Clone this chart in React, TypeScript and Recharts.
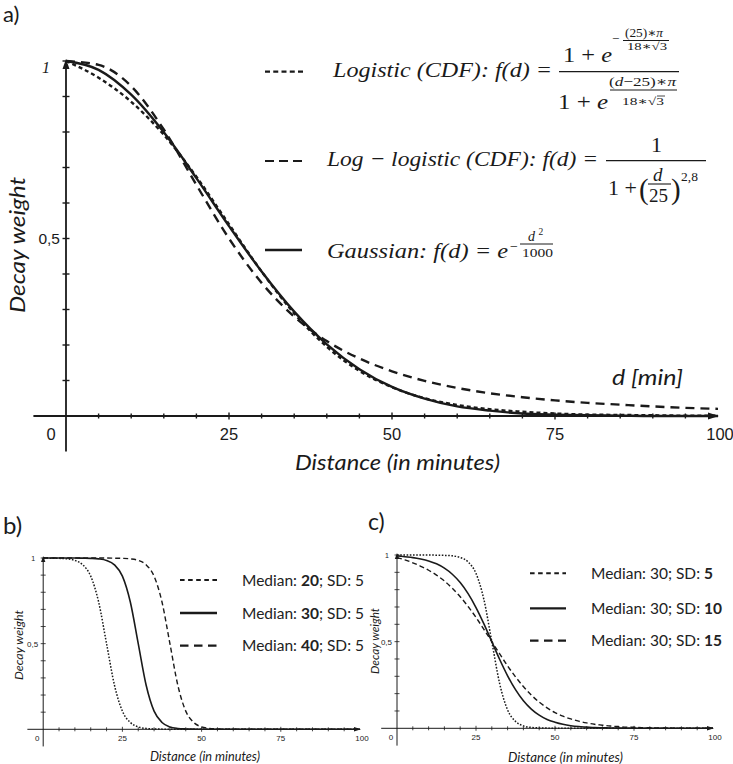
import React from "react";
import { LineChart, Line, XAxis, YAxis, ReferenceLine } from "recharts";

// ---- panel a: three decay functions, read every 5 minutes ----
const distA = [0, 5, 10, 15, 20, 25, 30, 35, 40, 45, 50, 55, 60, 65, 70, 75, 80, 85, 90, 95, 100];
const gaussianA = [1, 0.975, 0.905, 0.799, 0.67, 0.535, 0.407, 0.294, 0.202, 0.132, 0.082, 0.049, 0.027, 0.015, 0.007, 0.004, 0.002, 0.001, 0, 0, 0];
const logisticA = [1, 0.953, 0.885, 0.792, 0.674, 0.54, 0.407, 0.289, 0.195, 0.127, 0.081, 0.05, 0.031, 0.019, 0.012, 0.007, 0.004, 0.003, 0.002, 0.001, 0.001];
const logLogisticA = [1, 0.989, 0.929, 0.807, 0.651, 0.5, 0.375, 0.28, 0.211, 0.162, 0.126, 0.099, 0.079, 0.064, 0.053, 0.044, 0.037, 0.032, 0.027, 0.023, 0.02];

// ---- panels b and c, read every 2.5 minutes ----
const distBC = [0, 2.5, 5, 7.5, 10, 12.5, 15, 17.5, 20, 22.5, 25, 27.5, 30, 32.5, 35, 37.5, 40, 42.5, 45, 47.5, 50, 52.5, 55, 57.5, 60, 62.5, 65, 67.5, 70, 72.5, 75, 77.5, 80, 82.5, 85, 87.5, 90, 92.5, 95, 97.5, 100];
const median20 = [1, 0.999, 0.998, 0.995, 0.986, 0.96, 0.894, 0.743, 0.5, 0.257, 0.106, 0.04, 0.014, 0.005, 0.002, 0.001, 0, 0, 0, 0, 0, 0, 0, 0, 0, 0, 0, 0, 0, 0, 0, 0, 0, 0, 0, 0, 0, 0, 0, 0, 0];
const median30 = [1, 1, 1, 1, 1, 0.999, 0.998, 0.995, 0.986, 0.96, 0.894, 0.743, 0.5, 0.257, 0.106, 0.04, 0.014, 0.005, 0.002, 0.001, 0, 0, 0, 0, 0, 0, 0, 0, 0, 0, 0, 0, 0, 0, 0, 0, 0, 0, 0, 0, 0];
const median40 = [1, 1, 1, 1, 1, 1, 1, 1, 1, 0.999, 0.998, 0.995, 0.986, 0.96, 0.894, 0.743, 0.5, 0.257, 0.106, 0.04, 0.014, 0.005, 0.002, 0.001, 0, 0, 0, 0, 0, 0, 0, 0, 0, 0, 0, 0, 0, 0, 0, 0, 0];
const sd5 = [1, 1, 1, 1, 1, 0.999, 0.998, 0.995, 0.986, 0.96, 0.894, 0.743, 0.5, 0.257, 0.106, 0.04, 0.014, 0.005, 0.002, 0.001, 0, 0, 0, 0, 0, 0, 0, 0, 0, 0, 0, 0, 0, 0, 0, 0, 0, 0, 0, 0, 0];
const sd10 = [0.995, 0.99, 0.985, 0.977, 0.966, 0.949, 0.924, 0.889, 0.841, 0.777, 0.697, 0.603, 0.5, 0.397, 0.303, 0.223, 0.159, 0.111, 0.076, 0.051, 0.035, 0.023, 0.015, 0.01, 0.007, 0.004, 0.003, 0.002, 0.001, 0.001, 0, 0, 0, 0, 0, 0, 0, 0, 0, 0, 0];
const sd15 = [0.985, 0.972, 0.955, 0.935, 0.912, 0.884, 0.85, 0.808, 0.759, 0.703, 0.64, 0.571, 0.5, 0.429, 0.36, 0.297, 0.241, 0.192, 0.151, 0.118, 0.091, 0.07, 0.054, 0.041, 0.031, 0.023, 0.018, 0.013, 0.01, 0.007, 0.006, 0.004, 0.003, 0.002, 0.002, 0.001, 0.001, 0.001, 0, 0, 0];

const xTicks = [0, 5, 10, 15, 20, 25, 30, 35, 40, 45, 50, 55, 60, 65, 70, 75, 80, 85, 90, 95, 100];
const xLabels = [0, 25, 50, 75, 100];
const yTicks = [0, 0.1, 0.2, 0.3, 0.4, 0.5, 0.6, 0.7, 0.8, 0.9, 1];

const tableA = distA.map((d, i) => ({ d, gaussian: gaussianA[i], logistic: logisticA[i], logLogistic: logLogisticA[i] }));
const tableB = distBC.map((d, i) => ({ d, m20: median20[i], m30: median30[i], m40: median40[i] }));
const tableC = distBC.map((d, i) => ({ d, s5: sd5[i], s10: sd10[i], s15: sd15[i] }));

const INK = "#1a1a1a";
const SERIF = "'Liberation Serif', 'DejaVu Serif', serif";
const SANS = "Lato, 'Open Sans', sans-serif";
const TICKFONT = "'Liberation Sans', Arial, sans-serif";

interface AxisStyle {
  tick: number;
  major: number;
  stroke: number;
  font: number;
  labelDy: number;
  zeroDx: number;
  arrowLen: number;
  arrowHalf: number;
}

const styleA: AxisStyle = { tick: 2.5, major: 3.5, stroke: 1.4, font: 16.5, labelDy: 24, zeroDx: 15, arrowLen: 10, arrowHalf: 3.5 };
const styleSmall: AxisStyle = { tick: 2, major: 2.5, stroke: 0.8, font: 8, labelDy: 11.5, zeroDx: 6, arrowLen: 6, arrowHalf: 2.2 };

const makeXTick = (s: AxisStyle) => (props: any) => {
  const { x, y, payload } = props;
  const v = payload.value as number;
  const labelled = xLabels.includes(v);
  const h = labelled ? s.major : s.tick;
  return (
    <g>
      {v > 0 && v < 100 && <line x1={x} x2={x} y1={y - h} y2={y + h} stroke={INK} strokeWidth={s.stroke} />}
      {v === 100 && (
        <path d={`M${x + 1},${y} L${x - s.arrowLen},${y - s.arrowHalf} L${x - s.arrowLen},${y + s.arrowHalf} Z`} fill={INK} />
      )}
      {labelled && (
        <text x={v === 0 ? x - s.zeroDx : v === 100 ? x + 2 : x} y={y + s.labelDy} textAnchor="middle" fontFamily={TICKFONT} fontSize={s.font} fill={INK}>
          {v}
        </text>
      )}
    </g>
  );
};

const makeYTick = (s: AxisStyle, big: boolean) => (props: any) => {
  const { x, y, payload } = props;
  const v = payload.value as number;
  const half = Math.abs(v - 0.5) < 1e-6;
  const one = Math.abs(v - 1) < 1e-6;
  return (
    <g>
      {v > 0 && <line x1={x - s.major} x2={x + s.major} y1={y} y2={y} stroke={INK} strokeWidth={s.stroke} />}
      {one && (
        <path d={`M${x},${y - 2} L${x - s.arrowHalf},${y + s.arrowLen - 2} L${x + s.arrowHalf},${y + s.arrowLen - 2} Z`} fill={INK} />
      )}
      {half && (
        <text x={x - (big ? 6 : 5)} y={y + s.font * 0.36} textAnchor="end" fontFamily={TICKFONT} fontSize={big ? 15.5 : s.font} fill={INK}>
          0,5
        </text>
      )}
      {one &&
        (big ? (
          <text x={x - 16} y={y + 11.5} textAnchor="end" fontFamily={SERIF} fontStyle="italic" fontSize={16} fill={INK}>
            1
          </text>
        ) : (
          <text x={x - 8} y={y + 3} textAnchor="end" fontFamily={TICKFONT} fontSize={7} fill={INK}>
            1
          </text>
        ))}
    </g>
  );
};

function BigChart() {
  return (
    <LineChart width={733} height={480} data={tableA} margin={{ top: 61, right: 15, bottom: 34, left: 26 }}>
      <XAxis dataKey="d" type="number" domain={[0, 100]} ticks={xTicks} interval={0} axisLine={false} tickLine={false} tickSize={0} tickMargin={0} height={30} tick={makeXTick(styleA)} />
      <YAxis type="number" domain={[0, 1]} ticks={yTicks} interval={0} axisLine={false} tickLine={false} tickSize={0} tickMargin={0} width={40} tick={makeYTick(styleA, true)} />
      <ReferenceLine segment={[{ x: -5, y: 0 }, { x: 100, y: 0 }]} ifOverflow="visible" stroke={INK} strokeWidth={1.8} />
      <ReferenceLine segment={[{ x: 0, y: -0.1 }, { x: 0, y: 1 }]} ifOverflow="visible" stroke={INK} strokeWidth={1.8} />
      <Line type="monotone" dataKey="logistic" stroke={INK} strokeWidth={2.4} strokeDasharray="4 3" dot={false} isAnimationActive={false} />
      <Line type="monotone" dataKey="logLogistic" stroke={INK} strokeWidth={2.4} strokeDasharray="9 6" dot={false} isAnimationActive={false} />
      <Line type="monotone" dataKey="gaussian" stroke={INK} strokeWidth={2.4} dot={false} isAnimationActive={false} />
    </LineChart>
  );
}

function SmallChart({ data, keys, margin, width }: { data: any[]; keys: string[]; margin: any; width: number }) {
  return (
    <LineChart width={width} height={264} data={data} margin={margin}>
      <XAxis dataKey="d" type="number" domain={[0, 100]} ticks={xTicks} interval={0} axisLine={false} tickLine={false} tickSize={0} tickMargin={0} height={30} tick={makeXTick(styleSmall)} />
      <YAxis type="number" domain={[0, 1]} ticks={yTicks} interval={0} axisLine={false} tickLine={false} tickSize={0} tickMargin={0} width={30} tick={makeYTick(styleSmall, false)} />
      <ReferenceLine segment={[{ x: -5, y: 0 }, { x: 100, y: 0 }]} ifOverflow="visible" stroke={INK} strokeWidth={1} />
      <ReferenceLine segment={[{ x: 0, y: -0.1 }, { x: 0, y: 1 }]} ifOverflow="visible" stroke={INK} strokeWidth={1} />
      <Line type="monotone" dataKey={keys[0]} stroke={INK} strokeWidth={1.5} strokeDasharray="1.6 1.6" dot={false} isAnimationActive={false} />
      <Line type="monotone" dataKey={keys[2]} stroke={INK} strokeWidth={1.4} strokeDasharray="5 3" dot={false} isAnimationActive={false} />
      <Line type="monotone" dataKey={keys[1]} stroke={INK} strokeWidth={1.6} dot={false} isAnimationActive={false} />
    </LineChart>
  );
}

function LegendLines({ x1, x2, ys, w }: { x1: number; x2: number; ys: number[]; w: number }) {
  return (
    <g stroke={INK}>
      <line x1={x1} x2={x2} y1={ys[0]} y2={ys[0]} strokeWidth={w - 0.3} strokeDasharray="4.6 3.5" />
      <line x1={x1} x2={x2} y1={ys[1]} y2={ys[1]} strokeWidth={w} />
      <line x1={x1} x2={x2} y1={ys[2]} y2={ys[2]} strokeWidth={w} strokeDasharray="8.5 5.5" />
    </g>
  );
}

function Overlay() {
  const it = { fontFamily: SERIF, fontStyle: "italic" as const, fill: INK };
  const up = { fontFamily: SERIF, fill: INK };
  return (
    <svg width={733} height={764} style={{ position: "absolute", left: 0, top: 0, pointerEvents: "none" }}>
      {/* panel letters */}
      <text x={3} y={22} fontFamily={SANS} fontSize={22} fill={INK}>a)</text>
      <text x={3} y={534} fontFamily={SANS} fontSize={24} fill={INK}>b)</text>
      <text x={368} y={530} fontFamily={SANS} fontSize={23} fill={INK}>c)</text>

      {/* panel a axis titles */}
      <text x={16} y={245} transform="rotate(-90 16 245)" textAnchor="middle" dominantBaseline="central" fontFamily={SANS} fontStyle="italic" fontSize={22} textLength={136} lengthAdjust="spacingAndGlyphs" fill={INK}>Decay weight</text>
      <text x={295} y={470} fontFamily={SANS} fontStyle="italic" fontSize={22} textLength={205} lengthAdjust="spacingAndGlyphs" fill={INK}>Distance (in minutes)</text>
      <text x={612} y={385} fontFamily={SANS} fontStyle="italic" fontSize={22} textLength={71} lengthAdjust="spacingAndGlyphs" fill={INK}>d [min]</text>

      {/* panel a legend */}
      <line x1={265} x2={303} y1={71.7} y2={71.7} stroke={INK} strokeWidth={2.2} strokeDasharray="5 3.25" />
      <line x1={265} x2={302} y1={161} y2={161} stroke={INK} strokeWidth={2.2} strokeDasharray="9 5" />
      <line x1={265} x2={302} y1={250} y2={250} stroke={INK} strokeWidth={2.5} />

      {/* logistic */}
      <text x={333} y={77} fontSize={22} textLength={219} lengthAdjust="spacingAndGlyphs" {...it}>Logistic (CDF): f(d) =</text>
      <line x1={559} x2={679} y1={71.7} y2={71.7} stroke={INK} strokeWidth={1.3} />
      <text x={563} y={61.5} fontSize={22} textLength={49} lengthAdjust="spacingAndGlyphs" {...up}>1 + <tspan fontStyle="italic">e</tspan></text>
      <text x={612} y={43} fontSize={13} {...up}>−</text>
      <text x={625} y={37} fontSize={12.5} textLength={38} lengthAdjust="spacingAndGlyphs" {...up}>(25)∗<tspan fontStyle="italic">π</tspan></text>
      <line x1={623} x2={669} y1={40.5} y2={40.5} stroke={INK} strokeWidth={1.2} />
      <text x={627} y={50} fontSize={11} textLength={40} lengthAdjust="spacingAndGlyphs" {...up}>18∗√3</text>
      <text x={558} y={108.5} fontSize={22} textLength={50} lengthAdjust="spacingAndGlyphs" {...up}>1 + <tspan fontStyle="italic">e</tspan></text>
      <text x={609} y={86} fontSize={13} textLength={67} lengthAdjust="spacingAndGlyphs" {...up}>(<tspan fontStyle="italic">d</tspan>−25)∗<tspan fontStyle="italic">π</tspan></text>
      <line x1={610} x2={677} y1={90} y2={90} stroke={INK} strokeWidth={1.1} />
      <text x={622} y={105} fontSize={11} textLength={42} lengthAdjust="spacingAndGlyphs" {...up}>18∗√3</text>
      <line x1={657} x2={665} y1={96} y2={96} stroke={INK} strokeWidth={0.8} />

      {/* log-logistic */}
      <text x={327} y={166} fontSize={22} textLength={271} lengthAdjust="spacingAndGlyphs" {...it}>Log − logistic (CDF): f(d) =</text>
      <text x={651} y={152} fontSize={22} {...up}>1</text>
      <line x1={606} x2={706} y1={160.7} y2={160.7} stroke={INK} strokeWidth={1.3} />
      <text x={608} y={195} fontSize={22} {...up}>1 +</text>
      <text x={639} y={199} fontSize={29} {...up}>(</text>
      <text x={653} y={181} fontSize={19} {...it}>d</text>
      <line x1={648} x2={671} y1={184} y2={184} stroke={INK} strokeWidth={1.1} />
      <text x={649} y={201.5} fontSize={19} {...up}>25</text>
      <text x={671} y={199} fontSize={29} {...up}>)</text>
      <text x={681} y={181} fontSize={13.5} {...up}>2,8</text>

      {/* gaussian */}
      <text x={327} y={258} fontSize={22} textLength={181} lengthAdjust="spacingAndGlyphs" {...it}>Gaussian: f(d) = e</text>
      <text x={510} y={251} fontSize={14} {...up}>−</text>
      <text x={528} y={241} fontSize={14} {...it}>d</text>
      <text x={538.5} y={235} fontSize={9.5} {...up}>2</text>
      <line x1={520} x2={553} y1={244} y2={244} stroke={INK} strokeWidth={1} />
      <text x={522} y={256.5} fontSize={11.5} textLength={31} lengthAdjust="spacingAndGlyphs" {...up}>1000</text>

      {/* panel b */}
      <text x={18} y={645} transform="rotate(-90 18 645)" textAnchor="middle" dominantBaseline="central" fontFamily={SANS} fontStyle="italic" fontSize={11.5} textLength={70} lengthAdjust="spacingAndGlyphs" fill={INK}>Decay weight</text>
      <text x={205} y={761} textAnchor="middle" fontFamily={SANS} fontStyle="italic" fontSize={13} textLength={110} lengthAdjust="spacingAndGlyphs" fill={INK}>Distance (in minutes)</text>
      <LegendLines x1={180} x2={217} ys={[580, 613, 645.7]} w={2.3} />
      <g fontFamily={SANS} fontSize={15.5} fill="#222">
        <text x={242} y={585.5}>Median: <tspan fontWeight="bold">20</tspan>; SD: 5</text>
        <text x={242} y={618.5}>Median: <tspan fontWeight="bold">30</tspan>; SD: 5</text>
        <text x={242} y={651}>Median: <tspan fontWeight="bold">40</tspan>; SD: 5</text>
      </g>

      {/* panel c */}
      <text x={374} y={641} transform="rotate(-90 374 641)" textAnchor="middle" dominantBaseline="central" fontFamily={SANS} fontStyle="italic" fontSize={11.5} textLength={66} lengthAdjust="spacingAndGlyphs" fill={INK}>Decay weight</text>
      <text x={565.5} y={762} textAnchor="middle" fontFamily={SANS} fontStyle="italic" fontSize={12.5} textLength={115} lengthAdjust="spacingAndGlyphs" fill={INK}>Distance (in minutes)</text>
      <LegendLines x1={530} x2={566} ys={[573.3, 608.3, 640.7]} w={2.3} />
      <g fontFamily={SANS} fontSize={15.5} fill="#222">
        <text x={591} y={578.8}>Median: 30; SD: <tspan fontWeight="bold">5</tspan></text>
        <text x={591} y={613.8}>Median: 30; SD: <tspan fontWeight="bold">10</tspan></text>
        <text x={591} y={646.2}>Median: 30; SD: <tspan fontWeight="bold">15</tspan></text>
      </g>
    </svg>
  );
}

export default function App() {
  return (
    <div style={{ position: "absolute", left: 0, top: 0, width: 733, height: 764, background: "#fff", overflow: "hidden" }}>
      <div style={{ position: "absolute", left: 0, top: 0 }}>
        <BigChart />
      </div>
      <div style={{ position: "absolute", left: 363, top: 500 }}>
        <SmallChart data={tableC} keys={["s5", "s10", "s15"]} width={370} margin={{ top: 55, right: 20, bottom: 5.7, left: 4 }} />
      </div>
      <div style={{ position: "absolute", left: 0, top: 500 }}>
        <SmallChart data={tableB} keys={["m20", "m30", "m40"]} width={376} margin={{ top: 58, right: 16, bottom: 4.7, left: 13.2 }} />
      </div>
      <Overlay />
    </div>
  );
}
